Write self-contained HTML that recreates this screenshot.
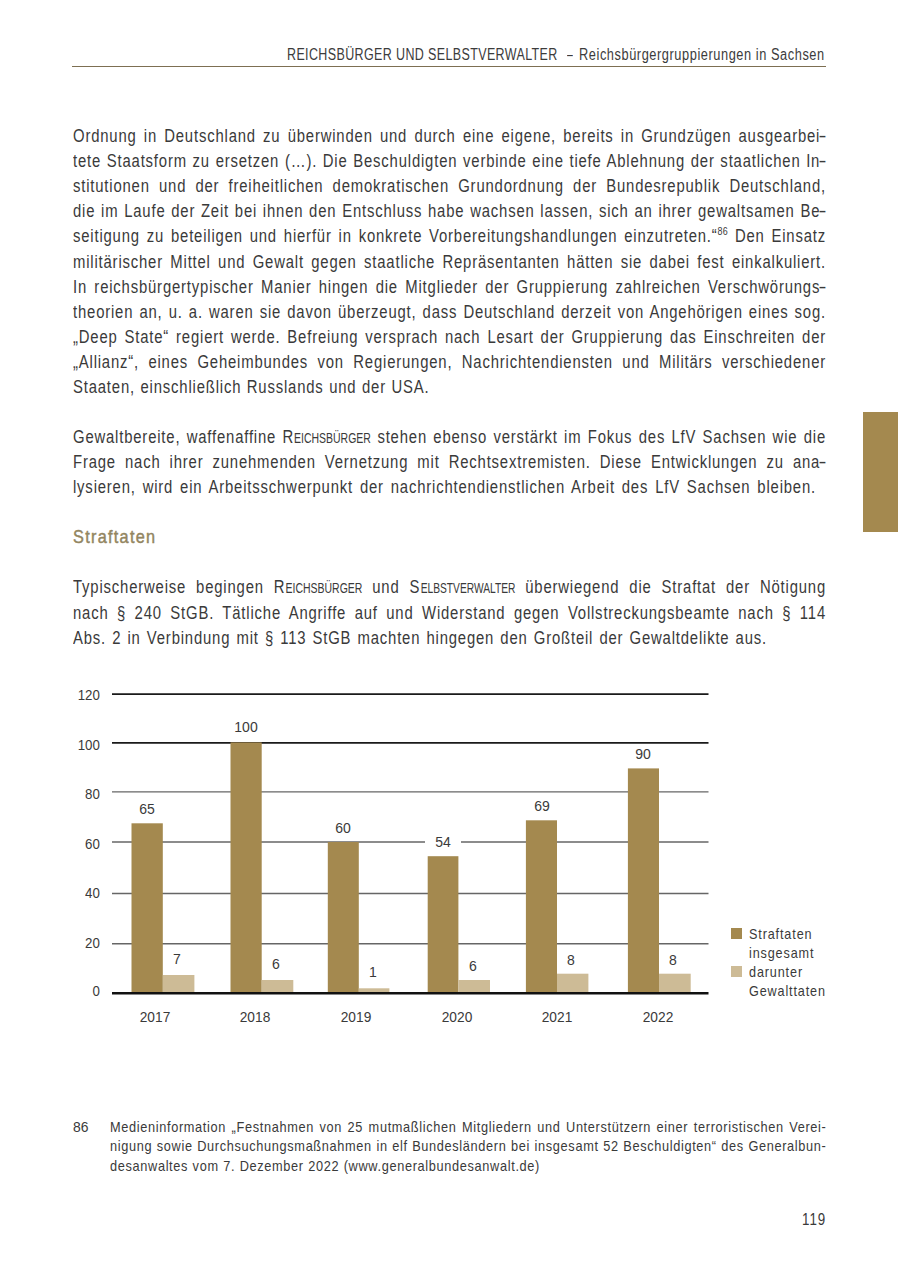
<!DOCTYPE html>
<html><head><meta charset="utf-8"><style>
html,body{margin:0;padding:0;background:#fff;}
body{width:900px;height:1276px;position:relative;overflow:hidden;font-family:"Liberation Sans", sans-serif;}
.ln{position:absolute;white-space:nowrap;}
.scx{display:inline-block;font-size:14.5px;letter-spacing:0;}
.scx>span{display:inline-block;transform-origin:0 0;}
.hy{display:inline-block;transform:scaleX(1.6);transform-origin:50% 50%;}
sup{font-size:0.6em;vertical-align:0;position:relative;top:-0.68em;letter-spacing:0.3px;}
</style></head><body>
<div class="ln" style="top:44.25px;font-size:16px;line-height:22.4px;color:#3c3c3c;left:286.7px;transform-origin:0 0;transform:scaleX(0.78);letter-spacing:0.49px;">REICHSBÜRGER UND SELBSTVERWALTER</div>
<div class="ln" style="top:44.25px;font-size:16px;line-height:22.4px;color:#3c3c3c;left:566.7px;transform-origin:0 0;transform:scaleX(0.65);">–</div>
<div class="ln" style="top:44.25px;font-size:16px;line-height:22.4px;color:#3c3c3c;left:578.7px;transform-origin:0 0;transform:scaleX(0.8);letter-spacing:0.7px;">Reichsbürgergruppierungen in Sachsen</div>
<div style="position:absolute;left:72px;top:65.6px;width:754px;height:1.3px;background:#7d6f52"></div>
<div class="ln" style="top:124.18px;font-size:17.5px;line-height:24.5px;color:#3a3a3a;left:73px;width:885.88px;text-align:justify;text-align-last:justify;transform-origin:0 0;transform:scaleX(0.85);letter-spacing:0.96px;">Ordnung in Deutschland zu überwinden und durch eine eigene, bereits in Grundzügen ausgearbei<span class="hy">-</span></div>
<div class="ln" style="top:149.25px;font-size:17.5px;line-height:24.5px;color:#3a3a3a;left:73px;width:885.88px;text-align:justify;text-align-last:justify;transform-origin:0 0;transform:scaleX(0.85);letter-spacing:0.96px;">tete Staatsform zu ersetzen (…). Die Beschuldigten verbinde eine tiefe Ablehnung der staatlichen In<span class="hy">-</span></div>
<div class="ln" style="top:174.32px;font-size:17.5px;line-height:24.5px;color:#3a3a3a;left:73px;width:885.88px;text-align:justify;text-align-last:justify;transform-origin:0 0;transform:scaleX(0.85);letter-spacing:0.96px;">stitutionen und der freiheitlichen demokratischen Grundordnung der Bundesrepublik Deutschland,</div>
<div class="ln" style="top:199.39px;font-size:17.5px;line-height:24.5px;color:#3a3a3a;left:73px;width:885.88px;text-align:justify;text-align-last:justify;transform-origin:0 0;transform:scaleX(0.85);letter-spacing:0.96px;">die im Laufe der Zeit bei ihnen den Entschluss habe wachsen lassen, sich an ihrer gewaltsamen Be<span class="hy">-</span></div>
<div class="ln" style="top:224.46px;font-size:17.5px;line-height:24.5px;color:#3a3a3a;left:73px;width:885.88px;text-align:justify;text-align-last:justify;transform-origin:0 0;transform:scaleX(0.85);letter-spacing:0.96px;">seitigung zu beteiligen und hierfür in konkrete Vorbereitungshandlungen einzutreten.“<sup>86</sup> Den Einsatz</div>
<div class="ln" style="top:249.53px;font-size:17.5px;line-height:24.5px;color:#3a3a3a;left:73px;width:885.88px;text-align:justify;text-align-last:justify;transform-origin:0 0;transform:scaleX(0.85);letter-spacing:0.96px;">militärischer Mittel und Gewalt gegen staatliche Repräsentanten hätten sie dabei fest einkalkuliert.</div>
<div class="ln" style="top:274.60px;font-size:17.5px;line-height:24.5px;color:#3a3a3a;left:73px;width:885.88px;text-align:justify;text-align-last:justify;transform-origin:0 0;transform:scaleX(0.85);letter-spacing:0.96px;">In reichsbürgertypischer Manier hingen die Mitglieder der Gruppierung zahlreichen Verschwörungs<span class="hy">-</span></div>
<div class="ln" style="top:299.67px;font-size:17.5px;line-height:24.5px;color:#3a3a3a;left:73px;width:885.88px;text-align:justify;text-align-last:justify;transform-origin:0 0;transform:scaleX(0.85);letter-spacing:0.96px;">theorien an, u. a. waren sie davon überzeugt, dass Deutschland derzeit von Angehörigen eines sog.</div>
<div class="ln" style="top:324.74px;font-size:17.5px;line-height:24.5px;color:#3a3a3a;left:73px;width:885.88px;text-align:justify;text-align-last:justify;transform-origin:0 0;transform:scaleX(0.85);letter-spacing:0.96px;">„Deep State“ regiert werde. Befreiung versprach nach Lesart der Gruppierung das Einschreiten der</div>
<div class="ln" style="top:349.81px;font-size:17.5px;line-height:24.5px;color:#3a3a3a;left:73px;width:885.88px;text-align:justify;text-align-last:justify;transform-origin:0 0;transform:scaleX(0.85);letter-spacing:0.96px;">„Allianz“, eines Geheimbundes von Regierungen, Nachrichtendiensten und Militärs verschiedener</div>
<div class="ln" style="top:374.88px;font-size:17.5px;line-height:24.5px;color:#3a3a3a;left:73px;width:419.41px;text-align:justify;text-align-last:justify;transform-origin:0 0;transform:scaleX(0.85);letter-spacing:0.96px;">Staaten, einschließlich Russlands und der USA.</div>
<div class="ln" style="top:425.02px;font-size:17.5px;line-height:24.5px;color:#3a3a3a;left:73px;width:885.88px;text-align:justify;text-align-last:justify;transform-origin:0 0;transform:scaleX(0.85);letter-spacing:0.96px;">Gewaltbereite, waffenaffine R<span class="scx" style="width:90.6px"><span style="transform:scaleX(0.85)">EICHSBÜRGER</span></span> stehen ebenso verstärkt im Fokus des LfV Sachsen wie die</div>
<div class="ln" style="top:450.09px;font-size:17.5px;line-height:24.5px;color:#3a3a3a;left:73px;width:885.88px;text-align:justify;text-align-last:justify;transform-origin:0 0;transform:scaleX(0.85);letter-spacing:0.96px;">Frage nach ihrer zunehmenden Vernetzung mit Rechtsextremisten. Diese Entwicklungen zu ana<span class="hy">-</span></div>
<div class="ln" style="top:475.16px;font-size:17.5px;line-height:24.5px;color:#3a3a3a;left:73px;width:874.12px;text-align:justify;text-align-last:justify;transform-origin:0 0;transform:scaleX(0.85);letter-spacing:0.96px;">lysieren, wird ein Arbeitsschwerpunkt der nachrichtendienstlichen Arbeit des LfV Sachsen bleiben.</div>
<div class="ln" style="top:524.26px;font-size:18.5px;line-height:25.9px;color:#928560;left:73px;transform-origin:0 0;transform:scaleX(0.88);-webkit-text-stroke:0.45px #928560;letter-spacing:1.45px;">Straftaten</div>
<div class="ln" style="top:575.44px;font-size:17.5px;line-height:24.5px;color:#3a3a3a;left:73px;width:885.88px;text-align:justify;text-align-last:justify;transform-origin:0 0;transform:scaleX(0.85);letter-spacing:0.96px;">Typischerweise begingen R<span class="scx" style="width:90.6px"><span style="transform:scaleX(0.85)">EICHSBÜRGER</span></span> und S<span class="scx" style="width:111.8px"><span style="transform:scaleX(0.83)">ELBSTVERWALTER</span></span> überwiegend die Straftat der Nötigung</div>
<div class="ln" style="top:600.51px;font-size:17.5px;line-height:24.5px;color:#3a3a3a;left:73px;width:885.88px;text-align:justify;text-align-last:justify;transform-origin:0 0;transform:scaleX(0.85);letter-spacing:0.96px;">nach § 240 StGB. Tätliche Angriffe auf und Widerstand gegen Vollstreckungsbeamte nach § 114</div>
<div class="ln" style="top:625.58px;font-size:17.5px;line-height:24.5px;color:#3a3a3a;left:73px;width:816.47px;text-align:justify;text-align-last:justify;transform-origin:0 0;transform:scaleX(0.85);letter-spacing:0.96px;">Abs. 2 in Verbindung mit § 113 StGB machten hingegen den Großteil der Gewaltdelikte aus.</div>
<div style="position:absolute;left:862.5px;top:411.5px;width:35.5px;height:120.3px;background:#a4894f"></div>
<svg width="900" height="1276" style="position:absolute;left:0;top:0">
<line x1="112" x2="708.5" y1="694.1" y2="694.1" stroke="#1a1a1a" stroke-width="1.7"/>
<line x1="112" x2="708.5" y1="742.8" y2="742.8" stroke="#1a1a1a" stroke-width="1.7"/>
<line x1="112" x2="708.5" y1="791.9" y2="791.9" stroke="#666666" stroke-width="1.4"/>
<line x1="112" x2="708.5" y1="842.0" y2="842.0" stroke="#666666" stroke-width="1.4"/>
<line x1="112" x2="708.5" y1="893.5" y2="893.5" stroke="#666666" stroke-width="1.4"/>
<line x1="112" x2="708.5" y1="943.8" y2="943.8" stroke="#666666" stroke-width="1.4"/>
<rect x="425" y="838" width="36" height="8" fill="#fff"/>
<rect x="131.5" y="823.3" width="31.3" height="170.0" fill="#a4894f"/>
<rect x="163.0" y="975.0" width="31.4" height="18.3" fill="#cdbb96"/>
<rect x="230.5" y="742.4" width="31.2" height="250.9" fill="#a4894f"/>
<rect x="261.7" y="980.0" width="31.6" height="13.3" fill="#cdbb96"/>
<rect x="327.8" y="842.0" width="31.0" height="151.3" fill="#a4894f"/>
<rect x="358.8" y="988.3" width="30.6" height="5.0" fill="#cdbb96"/>
<rect x="427.7" y="856.2" width="30.7" height="137.1" fill="#a4894f"/>
<rect x="458.4" y="980.0" width="31.6" height="13.3" fill="#cdbb96"/>
<rect x="525.9" y="820.3" width="31.1" height="173.0" fill="#a4894f"/>
<rect x="557.0" y="973.7" width="31.4" height="19.6" fill="#cdbb96"/>
<rect x="627.9" y="768.4" width="31.1" height="224.9" fill="#a4894f"/>
<rect x="659.0" y="973.7" width="31.7" height="19.6" fill="#cdbb96"/>
<line x1="112" x2="708.5" y1="993.3" y2="993.3" stroke="#111" stroke-width="2.6"/>
</svg>
<div class="ln" style="top:685.03px;font-size:14.3px;line-height:20.02px;color:#3a3a3a;right:800.00px;transform-origin:100% 0;transform:scaleX(0.93);">120</div>
<div class="ln" style="top:734.63px;font-size:14.3px;line-height:20.02px;color:#3a3a3a;right:800.00px;transform-origin:100% 0;transform:scaleX(0.93);">100</div>
<div class="ln" style="top:784.03px;font-size:14.3px;line-height:20.02px;color:#3a3a3a;right:800.00px;transform-origin:100% 0;transform:scaleX(0.93);">80</div>
<div class="ln" style="top:834.03px;font-size:14.3px;line-height:20.02px;color:#3a3a3a;right:800.00px;transform-origin:100% 0;transform:scaleX(0.93);">60</div>
<div class="ln" style="top:883.03px;font-size:14.3px;line-height:20.02px;color:#3a3a3a;right:800.00px;transform-origin:100% 0;transform:scaleX(0.93);">40</div>
<div class="ln" style="top:933.03px;font-size:14.3px;line-height:20.02px;color:#3a3a3a;right:800.00px;transform-origin:100% 0;transform:scaleX(0.93);">20</div>
<div class="ln" style="top:981.03px;font-size:14.3px;line-height:20.02px;color:#3a3a3a;right:800.00px;transform-origin:100% 0;transform:scaleX(0.93);">0</div>
<div class="ln" style="left:117.0px;width:60px;text-align:center;top:799.03px;font-size:14.3px;line-height:20.02px;color:#3a3a3a;transform:scaleX(0.98)">65</div>
<div class="ln" style="left:216.3px;width:60px;text-align:center;top:717.43px;font-size:14.3px;line-height:20.02px;color:#3a3a3a;transform:scaleX(0.98)">100</div>
<div class="ln" style="left:312.7px;width:60px;text-align:center;top:817.63px;font-size:14.3px;line-height:20.02px;color:#3a3a3a;transform:scaleX(0.98)">60</div>
<div class="ln" style="left:413.0px;width:60px;text-align:center;top:832.03px;font-size:14.3px;line-height:20.02px;color:#3a3a3a;transform:scaleX(0.98)">54</div>
<div class="ln" style="left:511.6px;width:60px;text-align:center;top:795.73px;font-size:14.3px;line-height:20.02px;color:#3a3a3a;transform:scaleX(0.98)">69</div>
<div class="ln" style="left:613.2px;width:60px;text-align:center;top:744.13px;font-size:14.3px;line-height:20.02px;color:#3a3a3a;transform:scaleX(0.98)">90</div>
<div class="ln" style="left:147.3px;width:60px;text-align:center;top:949.03px;font-size:14.3px;line-height:20.02px;color:#3a3a3a;transform:scaleX(0.98)">7</div>
<div class="ln" style="left:245.8px;width:60px;text-align:center;top:954.03px;font-size:14.3px;line-height:20.02px;color:#3a3a3a;transform:scaleX(0.98)">6</div>
<div class="ln" style="left:343.2px;width:60px;text-align:center;top:961.73px;font-size:14.3px;line-height:20.02px;color:#3a3a3a;transform:scaleX(0.98)">1</div>
<div class="ln" style="left:443.0px;width:60px;text-align:center;top:955.73px;font-size:14.3px;line-height:20.02px;color:#3a3a3a;transform:scaleX(0.98)">6</div>
<div class="ln" style="left:541.3px;width:60px;text-align:center;top:950.03px;font-size:14.3px;line-height:20.02px;color:#3a3a3a;transform:scaleX(0.98)">8</div>
<div class="ln" style="left:643.0px;width:60px;text-align:center;top:950.03px;font-size:14.3px;line-height:20.02px;color:#3a3a3a;transform:scaleX(0.98)">8</div>
<div class="ln" style="left:114.69999999999999px;width:80px;text-align:center;top:1006.63px;font-size:14.3px;line-height:20.02px;color:#3a3a3a;transform:scaleX(0.96)">2017</div>
<div class="ln" style="left:215.3px;width:80px;text-align:center;top:1006.63px;font-size:14.3px;line-height:20.02px;color:#3a3a3a;transform:scaleX(0.96)">2018</div>
<div class="ln" style="left:315.7px;width:80px;text-align:center;top:1006.63px;font-size:14.3px;line-height:20.02px;color:#3a3a3a;transform:scaleX(0.96)">2019</div>
<div class="ln" style="left:417.0px;width:80px;text-align:center;top:1006.63px;font-size:14.3px;line-height:20.02px;color:#3a3a3a;transform:scaleX(0.96)">2020</div>
<div class="ln" style="left:516.5px;width:80px;text-align:center;top:1006.63px;font-size:14.3px;line-height:20.02px;color:#3a3a3a;transform:scaleX(0.96)">2021</div>
<div class="ln" style="left:617.5px;width:80px;text-align:center;top:1006.63px;font-size:14.3px;line-height:20.02px;color:#3a3a3a;transform:scaleX(0.96)">2022</div>
<div style="position:absolute;left:731px;top:928px;width:11px;height:11px;background:#a4894f"></div>
<div style="position:absolute;left:731px;top:966.3px;width:11px;height:11px;background:#cdbb96"></div>
<div class="ln" style="top:923.52px;font-size:14.5px;line-height:20.3px;color:#3a3a3a;left:748.7px;transform-origin:0 0;transform:scaleX(0.87);letter-spacing:1px;">Straftaten</div>
<div class="ln" style="top:942.82px;font-size:14.5px;line-height:20.3px;color:#3a3a3a;left:748.7px;transform-origin:0 0;transform:scaleX(0.87);letter-spacing:1px;">insgesamt</div>
<div class="ln" style="top:961.82px;font-size:14.5px;line-height:20.3px;color:#3a3a3a;left:748.7px;transform-origin:0 0;transform:scaleX(0.87);letter-spacing:1px;">darunter</div>
<div class="ln" style="top:981.12px;font-size:14.5px;line-height:20.3px;color:#3a3a3a;left:748.7px;transform-origin:0 0;transform:scaleX(0.87);letter-spacing:1px;">Gewalttaten</div>
<div class="ln" style="top:1117.02px;font-size:14.5px;line-height:20.3px;color:#3a3a3a;left:72.8px;transform-origin:0 0;transform:scaleX(0.96);">86</div>
<div class="ln" style="top:1117.02px;font-size:14.5px;line-height:20.3px;color:#3a3a3a;left:110px;width:814.20px;text-align:justify;text-align-last:justify;transform-origin:0 0;transform:scaleX(0.88);letter-spacing:0.74px;">Medieninformation „Festnahmen von 25 mutmaßlichen Mitgliedern und Unterstützern einer terroristischen Verei-</div>
<div class="ln" style="top:1136.32px;font-size:14.5px;line-height:20.3px;color:#3a3a3a;left:110px;width:814.20px;text-align:justify;text-align-last:justify;transform-origin:0 0;transform:scaleX(0.88);letter-spacing:0.74px;">nigung sowie Durchsuchungsmaßnahmen in elf Bundesländern bei insgesamt 52 Beschuldigten“ des Generalbun-</div>
<div class="ln" style="top:1155.62px;font-size:14.5px;line-height:20.3px;color:#3a3a3a;left:110px;width:488.64px;text-align:justify;text-align-last:justify;transform-origin:0 0;transform:scaleX(0.88);letter-spacing:0.74px;">desanwaltes vom 7. Dezember 2022 (www.generalbundesanwalt.de)</div>
<div class="ln" style="top:1208.32px;font-size:16.7px;line-height:23.38px;color:#3a3a3a;right:73.70px;transform-origin:100% 0;transform:scaleX(0.8);letter-spacing:1.2px;">119</div>
</body></html>
